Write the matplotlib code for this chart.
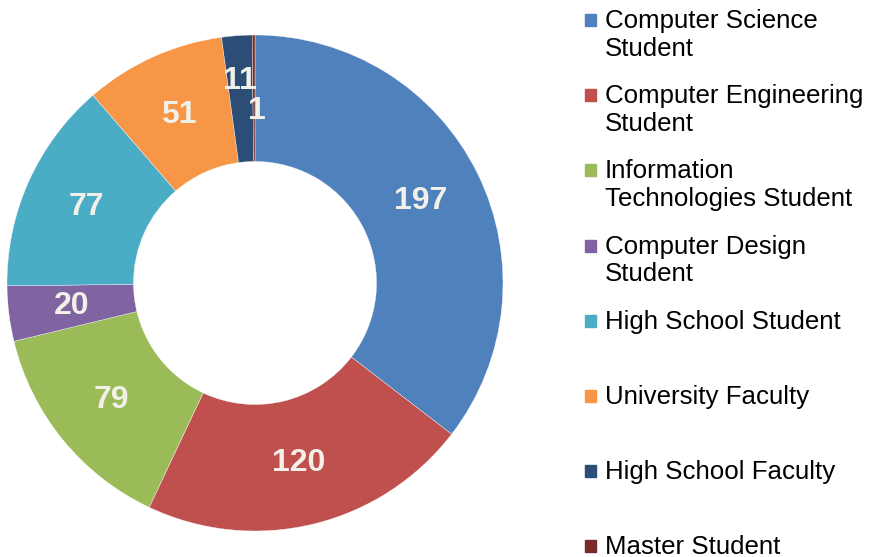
import matplotlib
matplotlib.use('Agg')
import matplotlib.pyplot as plt
from matplotlib.patches import Rectangle

plt.rcParams['font.family'] = ['Liberation Sans', 'DejaVu Sans']

# Respondent groups
categories = [
    "Computer Science\nStudent",
    "Computer Engineering\nStudent",
    "Information\nTechnologies Student",
    "Computer Design\nStudent",
    "High School Student",
    "University Faculty",
    "High School Faculty",
    "Master Student",
]
counts = [197, 120, 79, 20, 77, 51, 11, 1]
colors = ["#4F81BD", "#C0504D", "#9BBB59", "#8064A2",
          "#4BACC6", "#F79646", "#2C4D75", "#772C2A"]

W, H = 872, 557
fig = plt.figure(figsize=(W / 100, H / 100), dpi=100)
ax = fig.add_axes([7 / W, 26 / H, 496 / W, 496 / H])

wedges, texts = ax.pie(
    counts,
    labels=[str(c) for c in counts],
    colors=colors,
    startangle=90,
    counterclock=False,
    labeldistance=0.745,
    wedgeprops=dict(width=0.51, edgecolor="white", linewidth=0.25),
    textprops=dict(color="#F2F0E8", fontsize=23, fontweight="bold"),
)
for t in texts:
    t.set_ha("center")
    t.set_va("center")

# small overlapping slices: nudge labels apart like the original
x, y = texts[6].get_position()
texts[6].set_position((x - 0.005, y + 0.07))
x, y = texts[7].get_position()
texts[7].set_position((x + 0.01, y - 0.05))

ax.set_xlim(-1, 1)
ax.set_ylim(-1, 1)
ax.set_aspect("equal")
ax.axis("off")

# legend on the right, drawn item by item
top0 = 9.0
step = 75.2
for i, (cat, col) in enumerate(zip(categories, colors)):
    ytop = top0 + step * i
    fig.text(605 / W, 1 - ytop / H, cat, fontsize=18.6, color="black",
             ha="left", va="top", linespacing=1.2)
    cy = ytop + 11.0
    fig.patches.append(Rectangle((585 / W, 1 - (cy + 6) / H), 11 / W, 12 / H,
                                 transform=fig.transFigure, color=col,
                                 figure=fig))

fig.savefig("out.png", dpi=100)
